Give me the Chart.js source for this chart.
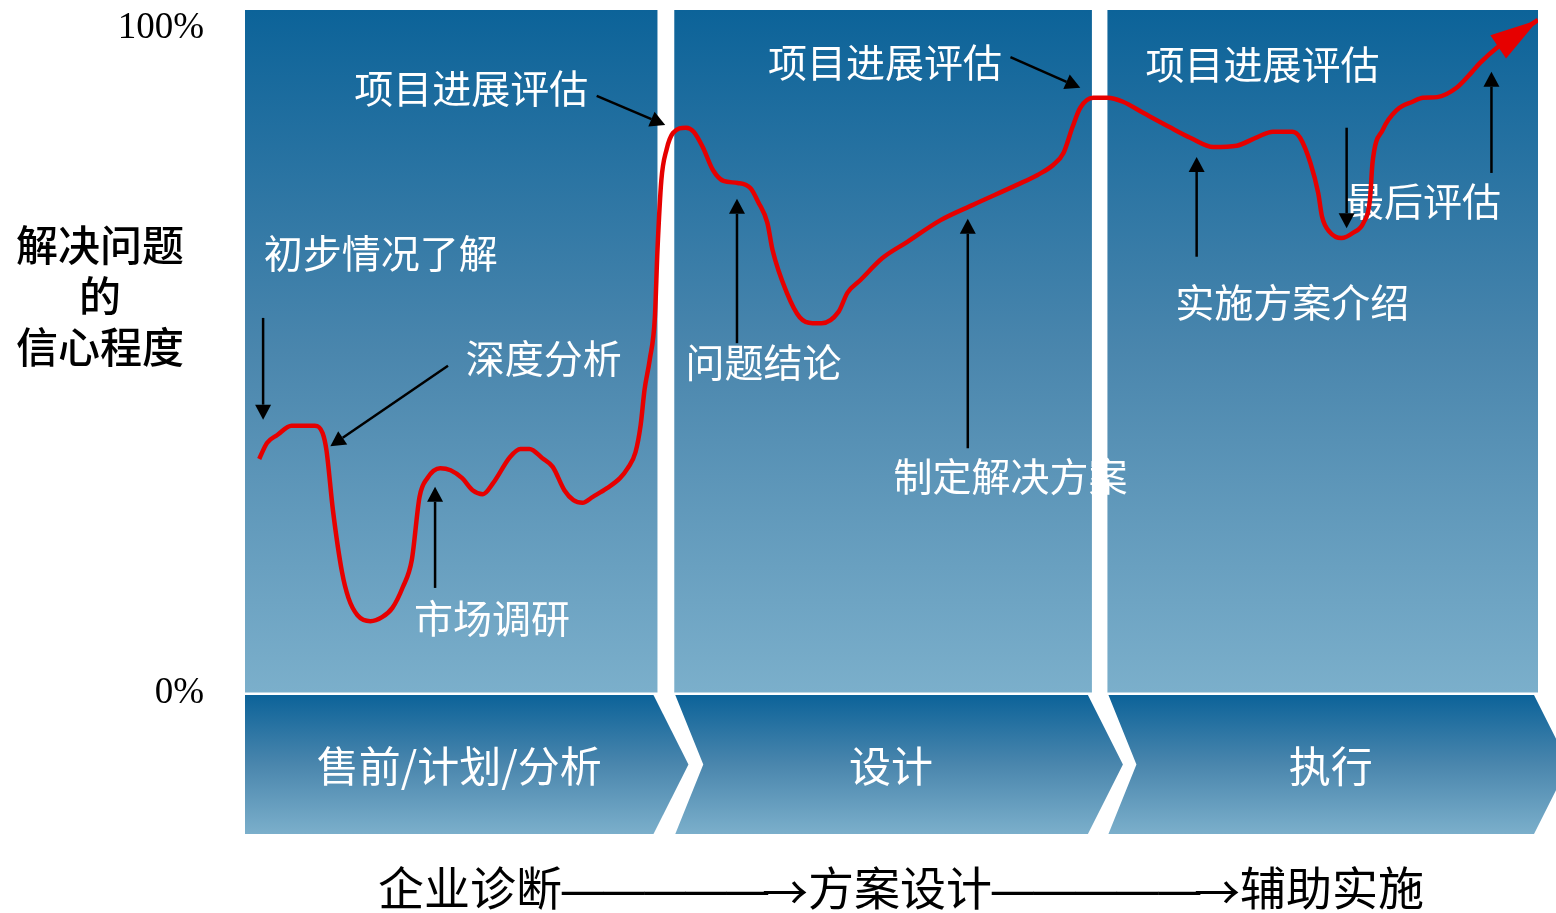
<!DOCTYPE html>
<html>
<head>
<meta charset="utf-8">
<script src="https://cdn.jsdelivr.net/npm/chart.js@4.4.1/dist/chart.umd.min.js"></script>
<style>
  html, body { margin: 0; padding: 0; background: #ffffff; }
  #wrap { width: 1556px; height: 913px; }
</style>
</head>
<body>
<div id="wrap"><canvas id="c" width="1556" height="913"></canvas></div>
<script>
// ---------------- data ----------------
// progress along the project timeline (0..100) and confidence (% of 100)
const progressX = [1.1,1.7,2.5,3.6,5.4,6.0,6.3,6.8,7.5,8.0,8.7,9.7,10.6,11.4,12.2,12.9,13.5,14.1,15.1,15.9,16.8,17.6,18.4,19.2,20.5,21.3,22.0,23.0,23.8,24.7,25.4,26.1,26.9,28.0,29.0,29.6,30.2,30.6,30.9,31.3,31.7,31.9,32.2,32.6,33.1,34.1,34.7,35.4,36.2,37.0,38.1,39.1,39.7,40.4,40.8,41.9,42.9,43.9,44.6,45.9,46.6,47.6,49.3,51.2,53.8,56.3,59.7,61.3,62.5,63.3,64.0,64.6,65.6,66.7,67.9,69.5,71.5,73.1,74.9,76.7,78.3,79.5,81.0,81.6,82.4,83.0,83.3,83.9,84.8,85.7,86.5,87.0,87.2,88.0,89.1,90.3,91.1,92.2,93.7,94.9,95.5,96.8,100];
const confidence = [35.2,37.6,38.8,40.2,40.2,39.1,36.5,27.5,18.2,14.3,11.7,10.8,11.4,12.8,15.9,20.0,29.5,32.3,33.8,33.5,32.3,30.5,29.9,31.6,35.5,36.7,36.7,35.3,34.0,30.5,29.0,28.6,29.5,30.8,32.3,33.8,36.2,40.3,45.6,50.1,56.5,66.6,77.1,81.7,84.2,85.0,84.4,82.1,78.6,77.0,76.7,75.9,73.8,70.7,66.6,60.2,56.5,55.6,55.6,57.3,60.2,62.1,65.4,67.8,71.1,73.4,76.4,77.9,79.4,81.2,85.1,88.0,89.5,89.5,88.9,87.2,85.1,83.5,82.1,82.3,83.6,84.4,84.4,83.5,79.7,75.2,71.6,69.3,68.4,69.2,70.7,74.1,79.7,84.7,87.7,88.9,89.5,89.6,91.0,93.4,94.7,97.0,101.2];

const yTickValues = [0, 100];
const yTitleLines = ['解决问题', '的', '信心程度'];

const phaseNames = ['售前/计划/分析', '设计', '执行'];
const phaseStart = [0, 33.2, 66.7];
const phaseEnd = [31.9, 65.5, 100];

const bottomWords = ['企业诊断', '方案设计', '辅助实施'];

// annotation labels: text, x (progress), y (confidence)
const labelTexts = ['项目进展评估','初步情况了解','深度分析','市场调研','项目进展评估','问题结论','制定解决方案','项目进展评估','实施方案介绍','最后评估'];
const labelX = [17.5, 10.5, 23.1, 19.1, 49.5, 40.1, 59.2, 78.7, 81.0, 91.1];
const labelY = [91.0, 66.2, 50.4, 11.3, 94.9, 49.8, 32.6, 94.6, 58.8, 74.0];

// annotation arrows: from (x1,y1) to (x2,y2) in progress / confidence units
const arrowX1 = [1.4, 15.7, 14.7, 27.2, 59.2, 38.05, 55.9, 73.6, 85.2, 96.4];
const arrowY1 = [56.4, 49.2, 15.8, 89.8, 95.6, 52.6, 36.8, 65.6, 85.0, 78.2];
const arrowX2 = [1.4, 6.6, 14.7, 32.5, 64.6, 38.05, 55.9, 73.6, 85.2, 96.4];
const arrowY2 = [41.1, 37.1, 31.0, 85.4, 91.0, 74.3, 71.3, 80.6, 69.9, 93.4];

// ---------------- drawing ----------------
const CJK = '"Noto Sans CJK SC", "Noto Sans", sans-serif';
const SERIF = '"Liberation Serif", "DejaVu Serif", serif';

function blueGradient(ctx, y0, y1) {
  const g = ctx.createLinearGradient(0, y0, 0, y1);
  g.addColorStop(0, '#0c6399');
  g.addColorStop(0.5, '#4a86ad');
  g.addColorStop(1, '#7bafcb');
  return g;
}

function arrow(ctx, x1, y1, x2, y2, len, half, width, color) {
  const a = Math.atan2(y2 - y1, x2 - x1);
  const bx = x2 - Math.cos(a) * len, by = y2 - Math.sin(a) * len;
  ctx.save();
  ctx.strokeStyle = color; ctx.fillStyle = color; ctx.lineWidth = width;
  ctx.beginPath(); ctx.moveTo(x1, y1); ctx.lineTo(bx, by); ctx.stroke();
  ctx.beginPath();
  ctx.moveTo(x2, y2);
  ctx.lineTo(bx + Math.sin(a) * half, by - Math.cos(a) * half);
  ctx.lineTo(bx - Math.sin(a) * half, by + Math.cos(a) * half);
  ctx.closePath(); ctx.fill();
  ctx.restore();
}

const backdrop = {
  id: 'backdrop',
  beforeDatasetsDraw(chart) {
    const ctx = chart.ctx, xs = chart.scales.x, ys = chart.scales.y, ca = chart.chartArea;
    const top = ca.top, bottom = ca.bottom - 0.5;
    ctx.save();
    // panels
    for (let i = 0; i < phaseNames.length; i++) {
      const l = xs.getPixelForValue(phaseStart[i]);
      const r = xs.getPixelForValue(phaseEnd[i]);
      ctx.fillStyle = blueGradient(ctx, top, bottom);
      ctx.fillRect(l, top, r - l, bottom - top);
    }
    // chevrons
    const cTop = ca.bottom + 2, cBot = ca.bottom + 141, cMid = (cTop + cBot) / 2;
    for (let i = 0; i < phaseNames.length; i++) {
      const l = xs.getPixelForValue(phaseStart[i]);
      const r = xs.getPixelForValue(phaseEnd[i]) - 4;
      ctx.fillStyle = blueGradient(ctx, cTop, cBot);
      ctx.beginPath();
      ctx.moveTo(l + (i ? 1 : 0), cTop);
      ctx.lineTo(r, cTop);
      ctx.lineTo(r + 35, cMid);
      ctx.lineTo(r, cBot);
      ctx.lineTo(l + (i ? 1 : 0), cBot);
      if (i) ctx.lineTo(l + 29, cMid);
      ctx.closePath();
      ctx.fill();
      ctx.fillStyle = '#ffffff';
      ctx.font = '42px ' + CJK;
      ctx.textAlign = 'center'; ctx.textBaseline = 'middle';
      ctx.fillText(phaseNames[i], (l + r + 4) / 2 + 8, cMid + 2);
    }
    // white annotation labels
    ctx.fillStyle = '#ffffff';
    ctx.font = '39px ' + CJK;
    ctx.textAlign = 'center'; ctx.textBaseline = 'middle';
    for (let i = 0; i < labelTexts.length; i++) {
      ctx.fillText(labelTexts[i], xs.getPixelForValue(labelX[i]), ys.getPixelForValue(labelY[i]));
    }
    // black annotation arrows
    for (let i = 0; i < arrowX1.length; i++) {
      arrow(ctx, xs.getPixelForValue(arrowX1[i]), ys.getPixelForValue(arrowY1[i]),
        xs.getPixelForValue(arrowX2[i]), ys.getPixelForValue(arrowY2[i]), 15, 8, 2.5, '#000000');
    }
    // y title
    ctx.fillStyle = '#000000';
    ctx.font = '500 42px ' + CJK;
    yTitleLines.forEach((t, k) => ctx.fillText(t, 100, 245 + k * 51));
    // bottom flow text
    ctx.font = '46px ' + CJK;
    ctx.textAlign = 'left';
    const wordX = [378, 808, 1240];
    const by = 888;
    for (let i = 0; i < bottomWords.length; i++) {
      ctx.fillText(bottomWords[i], wordX[i], by);
      if (i < bottomWords.length - 1) {
        const sx = wordX[i] + ctx.measureText(bottomWords[i]).width;
        const ex = wordX[i + 1];
        const arrowW = ctx.measureText('→').width;
        // dashes
        ctx.save();
        ctx.font = '46px ' + SERIF;
        const dashes = '—————';
        const w = ctx.measureText(dashes).width;
        ctx.translate(sx, by + 3);
        ctx.scale((ex - sx - arrowW + 6) / w, 1.4);
        ctx.fillText(dashes, 0, 0);
        ctx.restore();
        // arrow glyph
        ctx.fillText('→', ex - arrowW, by + 4);
      }
    }
    ctx.restore();
  },
  afterDatasetsDraw(chart) {
    const pts = chart.getDatasetMeta(0).data;
    const p1 = pts[pts.length - 2], p2 = pts[pts.length - 1];
    arrow(chart.ctx, p1.x, p1.y, p2.x, p2.y, 48, 14, 0.1, '#e60000');
  }
};

new Chart(document.getElementById('c'), {
  type: 'line',
  data: {
    datasets: [{
      data: progressX.map((x, i) => ({ x: x, y: confidence[i] })),
      borderColor: '#e60000',
      borderWidth: 4.5,
      pointRadius: 0,
      cubicInterpolationMode: 'monotone',
      fill: false
    }]
  },
  options: {
    responsive: false,
    animation: false,
    devicePixelRatio: 1,
    layout: { padding: { top: 10, right: 18, bottom: 220, left: 0 } },
    plugins: { legend: { display: false }, tooltip: { enabled: false } },
    scales: {
      x: { type: 'linear', min: 0, max: 100, display: false },
      y: {
        type: 'linear', min: 0, max: 102.7,
        grid: { display: false, drawTicks: false },
        border: { display: false },
        afterBuildTicks: (s) => { s.ticks = yTickValues.map(v => ({ value: v })); },
        afterFit: (s) => { s.width = 245; s.paddingTop = 0; s.paddingBottom = 0; },
        ticks: {
          padding: 41,
          color: '#000000',
          font: { family: SERIF, size: 37 },
          callback: (v) => v + '%'
        }
      }
    }
  },
  plugins: [backdrop]
});
</script>
</body>
</html>
